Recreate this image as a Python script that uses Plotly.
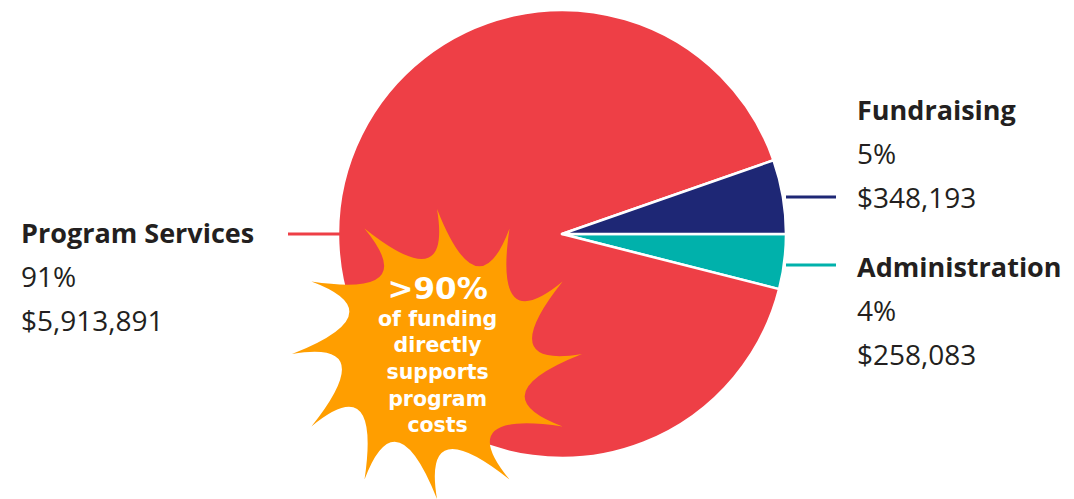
import numpy as np
import plotly.graph_objects as go

# ---- data ----
categories = ["Administration", "Program Services", "Fundraising"]
values = [258083, 5913891, 348193]
pct_labels = ["4%", "91%", "5%"]
amount_labels = ["$258,083", "$5,913,891", "$348,193"]
colors = ["#00B1AB", "#EE3F46", "#1E2775"]
callout_lines = ["&gt;90%", "of funding", "directly", "supports", "program", "costs"]

W, H = 1074, 499
OX, OY = 8, 8  # page body offset
FONT = "Open Sans"
STAR_FONT = "DejaVu Sans"
TXT = "#231F20"

fig = go.Figure()

# pie centred at (562, 234) with radius 224 px (page coords)
cx, cy, r = 562 - OX, 234 - OY, 224
fig.add_trace(go.Pie(
    labels=categories, values=values, sort=False, direction="clockwise",
    rotation=90, marker=dict(colors=colors, line=dict(color="white", width=2.5)),
    textinfo="none", hoverinfo="label+value+percent", showlegend=False,
    domain=dict(x=[(cx - r) / W, (cx + r) / W], y=[1 - (cy + r) / H, 1 - (cy - r) / H]),
))

# invisible pixel axes (page coordinates) for decorations
fig.update_xaxes(range=[OX, W + OX], visible=False, fixedrange=True)
fig.update_yaxes(range=[H + OY, OY], visible=False, fixedrange=True)

# starburst callout
scx, scy, R, rc, n = 437, 354, 145, 58, 12
ang = np.deg2rad(90 - np.arange(n) * 360 / n)
mid = ang - np.deg2rad(180 / n)
tips = [(scx + R * np.cos(a), scy - R * np.sin(a)) for a in ang]
ctrls = [(scx + rc * np.cos(a), scy - rc * np.sin(a)) for a in mid]
path = f"M {tips[0][0]:.1f},{tips[0][1]:.1f} "
for i in range(1, n + 1):
    t = tips[i % n]
    c = ctrls[i % n]
    path += f"Q {c[0]:.1f},{c[1]:.1f} {t[0]:.1f},{t[1]:.1f} "
path += "Z"
fig.add_shape(type="path", path=path, xref="x", yref="y", fillcolor="#FF9E00",
              line=dict(width=0), layer="above")

# leader lines
leaders = [
    (786, 836, 265, colors[0]),
    (288, 340, 234, colors[1]),
    (786, 836, 197, colors[2]),
]
for x0, x1, y, col in leaders:
    fig.add_shape(type="line", x0=x0, x1=x1, y0=y, y1=y, xref="x", yref="y",
                  line=dict(color=col, width=3), layer="above")

# labels
label_pos = [(855, 266), (19, 232), (855, 109)]
for (lx, ly), cat, pct, amt in zip(label_pos, categories, pct_labels, amount_labels):
    for k, (txt, bold, fs) in enumerate([(cat, True, 27), (pct, False, 28), (amt, False, 28)]):
        fig.add_annotation(
            x=lx, y=ly + k * 44, xref="x", yref="y", xanchor="left", yanchor="middle",
            text=f"<b>{txt}</b>" if bold else txt, showarrow=False,
            font=dict(family=FONT, size=fs, color=TXT),
        )

# callout text (single multi-line block)
star_text = (f"<span style='font-size:31px'>{callout_lines[0]}</span><br>"
             + "<br>".join(callout_lines[1:]))
fig.add_annotation(
    x=437, y=353, xref="x", yref="y", xanchor="center", yanchor="middle",
    text=f"<b>{star_text}</b>", showarrow=False,
    font=dict(family=STAR_FONT, size=20.5, color="white"),
)

fig.update_layout(
    width=W, height=H, margin=dict(l=0, r=0, t=0, b=0),
    paper_bgcolor="white", plot_bgcolor="white",
)
fig.write_html("out.html")
